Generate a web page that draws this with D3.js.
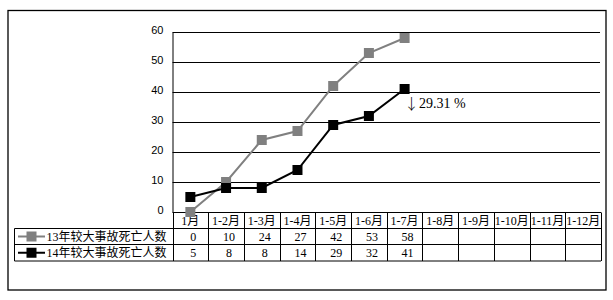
<!DOCTYPE html>
<html><head><meta charset="utf-8">
<script src="https://cdn.jsdelivr.net/npm/d3@7"></script>
<style>body{margin:0;background:#fff}svg{display:block}</style>
</head><body>
<script>
const categories = ["1月","1-2月","1-3月","1-4月","1-5月","1-6月","1-7月","1-8月","1-9月","1-10月","1-11月","1-12月"];
const seriesNames = ["13年较大事故死亡人数","14年较大事故死亡人数"];
const values13 = [0,10,24,27,42,53,58];
const values14 = [5,8,8,14,29,32,41];
const yTicks = [0,10,20,30,40,50,60];
const annotationArrow = "↓";
const annotationText = "29.31 %";

const W = 613, H = 300;
const svg = d3.select("body").append("svg").attr("width", W).attr("height", H);
const serif = "'Liberation Serif','Noto Sans CJK SC',serif";
const sans = "'Liberation Sans','Noto Sans CJK SC',sans-serif";

// outer border
svg.append("rect").attr("x",8).attr("y",10.5).attr("width",598).attr("height",279.5)
  .attr("fill","none").attr("stroke","#000").attr("stroke-width",1.3);

const x = d3.scaleBand().domain(categories).range([172.5, 601]);
const y = d3.scaleLinear().domain([0,60]).range([212, 32]);

// gridlines
svg.append("g").selectAll("line").data(yTicks.filter(d=>d>0)).join("line")
  .attr("x1",172.5).attr("x2",600).attr("y1",d=>Math.round(y(d))+0.5).attr("y2",d=>Math.round(y(d))+0.5)
  .attr("stroke","#000").attr("stroke-width",1);

// y axis
const yAxis = d3.axisLeft(y).tickValues(yTicks).tickSize(0).tickPadding(9);
const ga = svg.append("g").attr("transform","translate(172.5,0)").call(yAxis);
ga.select(".domain").attr("stroke","#000");
ga.selectAll("text").attr("font-family",sans).attr("font-size",11).attr("fill","#000").attr("dy","0.1em");

// table
const rowTop = 212.5, rowCat = 228.5, row1 = 244.5, row2 = 261;
const t = svg.append("g").attr("stroke","#000").attr("stroke-width",1);
t.append("line").attr("x1",172.5).attr("x2",601).attr("y1",rowTop).attr("y2",rowTop);
[rowCat,row1,row2].forEach(yy=>t.append("line").attr("x1",14.5).attr("x2",601).attr("y1",yy).attr("y2",yy));
t.append("line").attr("x1",14.5).attr("x2",14.5).attr("y1",rowCat).attr("y2",row2);
const bounds = categories.map(c=>x(c)).concat([x.range()[1]]);
t.selectAll("line.v").data(bounds).join("line").attr("class","v")
  .attr("x1",d=>Math.round(d)+0.5).attr("x2",d=>Math.round(d)+0.5).attr("y1",rowTop).attr("y2",row2);

// category labels
svg.append("g").selectAll("text").data(categories).join("text")
  .attr("x",d=>x(d)+x.bandwidth()/2).attr("y",(rowTop+rowCat)/2).attr("dy","0.35em")
  .attr("text-anchor","middle").attr("font-family",serif).attr("font-size",12).text(d=>d);

// values
const rows = [[values13,(rowCat+row1)/2],[values14,(row1+row2)/2]];
rows.forEach(([vals,cy])=>{
  svg.append("g").selectAll("text").data(vals).join("text")
    .attr("x",(d,i)=>x(categories[i])+x.bandwidth()/2+3).attr("y",cy).attr("dy","0.35em")
    .attr("text-anchor","middle").attr("font-family",serif).attr("font-size",12).attr("fill","#000").text(d=>d);
});

// legend in table
const colors = ["#808080","#000000"];
seriesNames.forEach((n,i)=>{
  const cy = rows[i][1];
  svg.append("line").attr("x1",18).attr("x2",45).attr("y1",cy).attr("y2",cy).attr("stroke",colors[i]).attr("stroke-width",2);
  svg.append("rect").attr("x",26.5).attr("y",cy-5).attr("width",10).attr("height",10).attr("fill",colors[i]);
  svg.append("text").attr("x",46.5).attr("y",cy).attr("dy","0.35em").attr("font-family",serif).attr("font-size",12).text(n);
});

// lines
const cx = i => x(categories[i]) + x.bandwidth()/2;
const line = d3.line().x((d,i)=>cx(i)).y(d=>y(d));
[values13, values14].forEach((vals,k)=>{
  svg.append("path").datum(vals).attr("d",line).attr("fill","none").attr("stroke",colors[k]).attr("stroke-width",2);
  svg.append("g").selectAll("rect").data(vals).join("rect")
    .attr("x",(d,i)=>cx(i)-5).attr("y",d=>y(d)-5).attr("width",10).attr("height",10).attr("fill",colors[k]);
});

// annotation
svg.append("text").attr("x",404).attr("y",109).attr("font-family","'Noto Sans CJK SC',sans-serif").attr("font-weight",300).attr("font-size",15).text(annotationArrow);
svg.append("text").attr("x",419).attr("y",108).attr("font-family",serif).attr("font-size",14).text(annotationText);
</script>
</body></html>
